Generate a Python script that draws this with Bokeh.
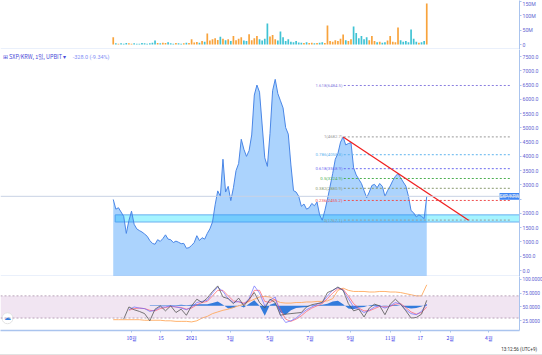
import math
from bokeh.plotting import figure
from bokeh.models import Range1d, FixedTicker, Span, Label, Div, LinearAxis
from bokeh.layouts import column
from bokeh.embed import file_html
from bokeh.resources import INLINE
from bokeh.core.properties import value

NaN = float("nan")

# ---------------- data ----------------
# x positions are day offsets from 2020-09-01
price_days = list(range(2, 483, 4))
price = [2490, 2150, 2200, 2050, 1900, 1300, 1750, 2080, 1620, 1460,
         1400, 1350, 1280, 1200, 1050, 950, 920, 1080, 1020, 1120,
         1250, 1100, 1080, 980, 1030, 990, 940, 950, 780, 800,
         880, 980, 1220, 1050, 1150, 1100, 1300, 1460, 1700, 2300,
         2790, 2600, 3900, 2750, 2950, 2450, 2900, 3500, 3750, 4600,
         4250, 4000, 4200, 4750, 6150, 6500, 6250, 5100, 3950, 3650,
         4800, 6300, 6700, 6200, 5950, 5700, 5010, 4780, 3700, 2800,
         2750, 2600, 2250, 2330, 2150, 2200, 2350, 2270, 2400, 1950,
         1760, 2100, 2500, 2950, 3400, 3900, 4100, 4500, 4680, 4400,
         4450, 4480, 3600, 3350, 3200, 3050, 2800, 2550, 2750, 2980,
         3020, 2900, 3050, 2950, 2600, 2800, 2960, 3150, 3300, 3400,
         3250, 3100, 2960, 2600, 2100, 2020, 1880, 1950, 1900, 1820,
         2600]
volume_m = [25, 4, 3, 4, 3, 5, 4, 3, 4, 3,
            3, 5, 4, 3, 4, 6, 14, 5, 4, 6,
            5, 8, 4, 3, 5, 4, 3, 4, 6, 5,
            18, 7, 9, 6, 12, 10, 38, 14, 18, 22,
            16, 27, 20, 15, 18, 12, 30, 15, 20, 25,
            14, 12, 36, 15, 22, 30, 18, 14, 20, 73,
            28, 33, 18, 14, 45, 25, 12, 18, 10, 8,
            12, 7, 6, 5, 8, 5, 6, 4, 5, 6,
            8, 5, 66, 12, 10, 15, 12, 20, 35, 15,
            12, 18, 63, 40, 22, 30, 18, 25, 15, 30,
            12, 8, 10, 6, 8, 14, 30, 10, 8, 59,
            15, 10, 12, 8, 52, 20, 10, 6, 8, 12,
            143]

osc_days = list(range(2, 483, 8))
rsi = [NaN, NaN, 28, 50, 45, 42, 38, 25, 46, 52,
       43, 52, 40, 46, 35, 52, 64, 58, 66, 78,
       88, 68, 65, 56, 66, 52, 64, 76, 58, 48,
       64, 58, 35, 37, 38, 39, 40, 50, 54, 56,
       58, 76, 80, 86, 80, 56, 43, 46, 32, 48,
       55, 52, 36, 55, 64, 55, 43, 30, 31, 37,
       62]
k_line = [NaN, NaN, NaN, 45, 50, 48, 47, 42, 44, 50,
          50, 52, 50, 48, 45, 50, 58, 60, 62, 75,
          86, 78, 65, 58, 60, 55, 65, 88, 75, 52,
          62, 68, 35, 22, 25, 30, 38, 45, 50, 55,
          58, 70, 80, 85, 80, 65, 50, 46, 40, 44,
          50, 52, 48, 52, 58, 55, 45, 38, 36, 42,
          55]
d_line = [NaN, NaN, NaN, 44, 47, 48, 47, 44, 43, 47,
          49, 51, 50, 49, 46, 48, 54, 58, 60, 70,
          80, 80, 70, 61, 59, 57, 61, 80, 80, 60,
          58, 64, 45, 28, 24, 28, 34, 42, 48, 52,
          56, 65, 75, 83, 82, 70, 56, 48, 43, 43,
          47, 51, 50, 51, 55, 56, 49, 41, 37, 40,
          50]
slow_line = [27, 27, 27, 27, 27, 27, 26, 26, 26, 26,
             25, 25, 24, 24, 24, 23, 25, 30, 33, 38,
             41, 44, 46, 49, 52, 55, 60, 64, 68, 69,
             68, 62, 58, 57, 57, 58, 58, 59, 59, 60,
             60, 61, 65, 80, 84, 80, 78, 78, 78, 77,
             77, 78, 78, 77, 77, 76, 74, 72, 70, 70,
             90]
hist = [0, 0, 0, 0, 0, 0, 0, 1, 1, 1,
        1, 1, 1, 2, 1, 2, 3, 3, 3, 5,
        8, 2, -5, -4, 1, -3, 4, 10, 0, -18,
        2, 5, -12, -16, -8, -4, -3, -2, 1, 1,
        2, 4, 8, 9, 3, -5, -6, -3, -2, 1,
        2, 1, -1, 1, 2, 0, -3, -5, -4, -1,
        3]
hist_base = 52

tick_days = [30, 75, 122, 181, 242, 303, 365, 426, 472, 518, 577]
tick_labels = ["10월", "15", "2021", "3월", "5월", "7월", "9월", "11월", "17", "2월", "4월"]

fib_ratios = [1.618, 1, 0.786, 0.618, 0.5, 0.382, 0.236, 0]
fib_colors = ["#8a7fe0", "#9a9a9a", "#5fb4ee", "#6b6bf0", "#4cb050", "#8a9a70", "#f05050", "#9a9a9a"]
fib_high = 4682.7
fib_low = 1767.1
fib_start_day = 355
fib_end_day = 612

trend_days = [354, 546]
trend_prices = [4680, 1760]

zone_low, zone_high = 1700, 1950
zone_start_day = 5
last_price = 2600.0
symbol = "SXP/KRW"
header_text = "⊞  SXP/KRW, 1일, UPBIT ▾"
change_text = "-328.0 (-9.34%)"
clock_text = "13:12:56 (UTC+9)"

# ---------------- styling helpers ----------------
X0, X1 = -170.6, 624.0
xr = Range1d(X0, X1)
MAIN_Y0, MAIN_Y1 = -210, 7746
MAIN_H = 227
AX_COLOR = "#aac4ee"
LBL_COLOR = "#6464d2"
TAG_COLOR = "#3f86f4"
NUM_FONT = "Roboto"
KR_FONT = "Noto Sans CJK KR"


def base_fig(h, yr):
    p = figure(frame_width=519, frame_height=h, x_range=xr, y_range=yr,
               y_axis_location="right", x_axis_location=None,
               toolbar_location=None, output_backend="svg",
               min_border_left=0, min_border_top=0, min_border_bottom=0,
               min_border_right=0, outline_line_color=None,
               background_fill_color="white", border_fill_color="white")
    p.xgrid.visible = False
    p.ygrid.visible = False
    ax = p.yaxis[0]
    ax.axis_line_color = AX_COLOR
    ax.major_tick_line_color = AX_COLOR
    ax.minor_tick_line_color = None
    ax.major_tick_out = 2
    ax.major_tick_in = 0
    ax.major_label_standoff = 1
    ax.major_label_text_font = NUM_FONT
    ax.major_label_text_font_size = "5.2px"
    ax.major_label_text_color = LBL_COLOR
    return p

# ---------------- volume panel ----------------
p_vol = base_fig(49, Range1d(-17.4, 153.5))
vol_colors = []
for i, v in enumerate(price):
    up = i == 0 or v >= price[i - 1]
    vol_colors.append("#f7931a" if up else "#1fb8cd")
p_vol.vbar(x=price_days, top=volume_m, bottom=0, width=2.6,
           fill_color=vol_colors, line_color=None, fill_alpha=0.85)
p_vol.yaxis[0].ticker = FixedTicker(ticks=[0, 50, 100, 150])
p_vol.yaxis[0].major_label_overrides = {0: "0", 50: "50M", 100: "100M", 150: "150M"}
p_vol.add_layout(Span(location=-17.4, dimension="width", line_color=AX_COLOR, line_width=1.5))

# ---------------- main price panel ----------------
p_main = base_fig(MAIN_H, Range1d(MAIN_Y0, MAIN_Y1))
p_main.quad(left=zone_start_day, right=X1, bottom=zone_low, top=zone_high,
            fill_color="#a5f4ff", line_color="#6ab0f0", line_width=1)
p_main.varea(x=price_days, y1=MAIN_Y0, y2=price, fill_color=(46, 144, 250), fill_alpha=0.4)
p_main.line(price_days, price, line_color="#4a86e6", line_width=1)
p_main.add_layout(Span(location=last_price, dimension="width", line_color="#c8d2e4", line_width=1))

fib_levels = [fib_low + r * (fib_high - fib_low) for r in fib_ratios]
fib_texts = ["%s(%.1f)" % (r, lv) for r, lv in zip(fib_ratios, fib_levels)]
p_main.segment(x0=[fib_start_day] * len(fib_levels), x1=[fib_end_day] * len(fib_levels),
               y0=fib_levels, y1=fib_levels, line_color=fib_colors, line_dash="2 2", line_width=1)
p_main.text(x=[fib_start_day - 2] * len(fib_levels), y=fib_levels, text=fib_texts,
            text_color=fib_colors, text_font=value(NUM_FONT), text_font_size="4.3px",
            text_align="right", text_baseline="middle")
p_main.line(trend_days, trend_prices, line_color="#f02020", line_width=1.3)

main_ticks = list(range(0, 7501, 500))
p_main.yaxis[0].ticker = FixedTicker(ticks=main_ticks)
p_main.yaxis[0].major_label_overrides = {t: ("" if t == 2500 else "%.1f" % t) for t in main_ticks}
p_main.add_layout(Span(location=MAIN_Y0, dimension="width", line_color=AX_COLOR, line_width=1.5))

p_main.add_layout(Label(x=-167, y=7500, text=header_text, text_font=KR_FONT,
                        text_font_size="5.5px", text_color="#4a4ad8", text_baseline="middle"))
p_main.add_layout(Label(x=-60, y=7500, text=change_text, text_font=NUM_FONT,
                        text_font_size="5.5px", text_color="#7f8ff5", text_baseline="middle"))
# price tag: symbol box inside the frame, price over the axis column
tag_half = 120
p_main.quad(left=[593.5], right=[X1], bottom=[last_price - tag_half], top=[last_price + tag_half],
            fill_color=TAG_COLOR, line_color=None)
p_main.text(x=[608.7], y=[last_price], text=[symbol], text_color="white",
            text_font=value(NUM_FONT), text_font_size="4.6px",
            text_align="center", text_baseline="middle")
tag_sy = (last_price - MAIN_Y0) / (MAIN_Y1 - MAIN_Y0) * MAIN_H
p_main.add_layout(Label(x=520, y=tag_sy, x_units="screen", y_units="screen",
                        text="%.1f" % last_price, text_font=NUM_FONT,
                        text_font_size="5px", text_color="white", text_baseline="middle",
                        background_fill_color=TAG_COLOR, padding=1))

# ---------------- oscillator panel ----------------
p_osc = base_fig(54, Range1d(7.5, 105.0))
p_osc.min_border_bottom = 20
p_osc.yaxis[0].major_label_text_font_size = "4.8px"
p_osc.quad(left=X0, right=X1, bottom=30, top=70, fill_color="#f1e5f2", line_color=None)
for lv in (30, 70):
    p_osc.add_layout(Span(location=lv, dimension="width", line_color="#b9a2b9",
                          line_dash="2 2", line_width=1))
hist_top = [hist_base + h for h in hist]
p_osc.varea(x=osc_days[7:], y1=hist_base, y2=hist_top[7:], fill_color="#1e6fd9", fill_alpha=0.9)
p_osc.line(osc_days, slow_line, line_color="#ffa95e", line_width=0.9)
p_osc.line(osc_days, d_line, line_color="#ff5a6a", line_width=0.7)
p_osc.line(osc_days, k_line, line_color="#6a6aff", line_width=0.7)
p_osc.line(osc_days, rsi, line_color="#555555", line_width=0.8)

osc_ticks = [25, 50, 75, 100]
p_osc.yaxis[0].ticker = FixedTicker(ticks=osc_ticks)
p_osc.yaxis[0].major_label_overrides = {t: "%.4f" % t for t in osc_ticks}

xa = LinearAxis(ticker=FixedTicker(ticks=tick_days),
                major_label_overrides={d: l for d, l in zip(tick_days, tick_labels)})
xa.axis_line_color = AX_COLOR
xa.axis_line_width = 1.5
xa.major_tick_line_color = AX_COLOR
xa.minor_tick_line_color = None
xa.major_tick_out = 2
xa.major_tick_in = 0
xa.major_label_standoff = 1
xa.major_label_text_font = KR_FONT
xa.major_label_text_font_size = "5px"
xa.major_label_text_color = "#3535e8"
p_osc.add_layout(xa, "below")

clock_tick = 623.5
xb = LinearAxis(ticker=FixedTicker(ticks=[clock_tick]),
                major_label_overrides={clock_tick: clock_text})
xb.axis_line_color = None
xb.major_tick_line_color = None
xb.minor_tick_line_color = None
xb.major_tick_out = 0
xb.major_tick_in = 0
xb.major_label_standoff = 3
xb.major_label_text_font = NUM_FONT
xb.major_label_text_font_size = "4.6px"
xb.major_label_text_color = "#333333"
p_osc.add_layout(xb, "below")

p_osc.scatter(x=[-159.9], y=[29.6], size=11, fill_color="white", line_color="#e2e2e2")
p_osc.text(x=[-159.9], y=[29.6], text=["☁"], text_color="#2f7fe0",
           text_font=value("DejaVu Sans"), text_font_size="7px",
           text_align="center", text_baseline="middle")

strip = Div(text="", width=542, height=5, margin=(0, 0, 0, 0),
            styles={"background-color": "#e2e2e2"})

layout = column(p_vol, p_main, p_osc, strip, spacing=0)
open("out.html", "w").write(file_html(layout, INLINE))
